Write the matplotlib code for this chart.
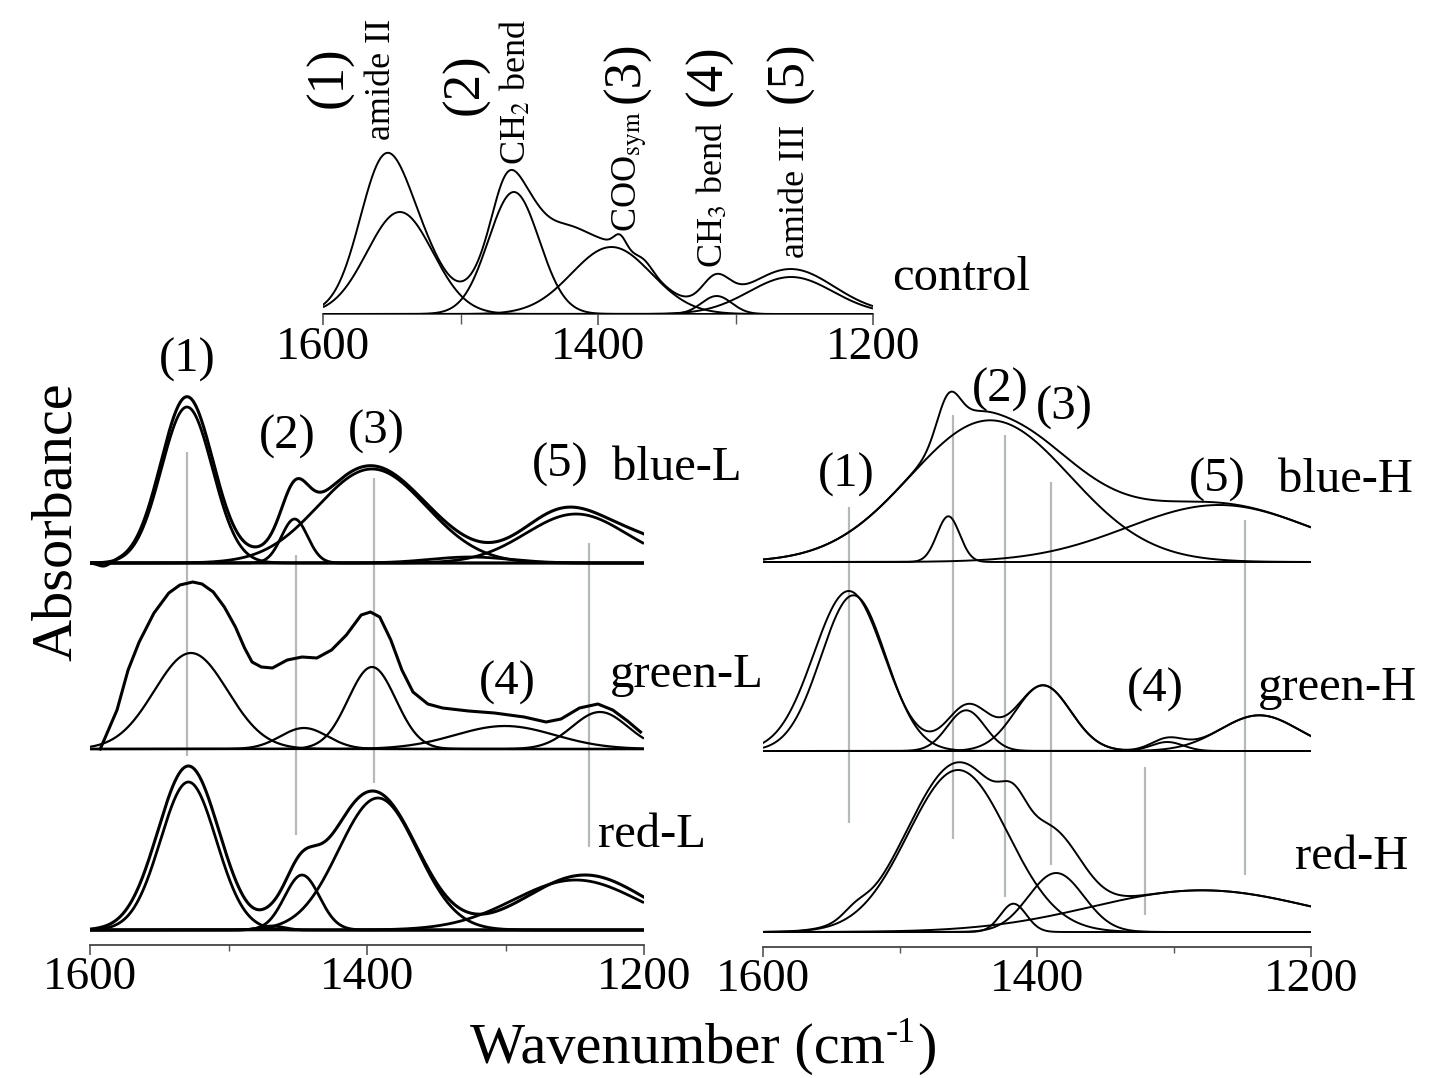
import numpy as np
import matplotlib
matplotlib.use("Agg")
import matplotlib.pyplot as plt
from matplotlib.ticker import MultipleLocator

plt.rcParams['font.family'] = ['Liberation Serif', 'DejaVu Serif']
plt.rcParams['mathtext.fontset'] = 'stix'

# ---------------- DATA (wavenumber cm-1, absorbance a.u.) ----------------
# control spectrum: fitted bands (1)-(5)
control_comp_center = [1544.1, 1461.2, 1390.2, 1313.7, 1259.6]
control_comp_height = [1.02, 1.22, 0.67, 0.18, 0.37]
control_comp_width = [24.0, 18.5, 29.0, 11.0, 30.5]
control_env_center = [1544.1, 1461.2, 1390.2, 1313.7, 1259.6, 1558.5, 1467.6, 1424.0, 1384.0, 1366.0, 1315.0, 1262.0]
control_env_height = [1.02, 1.22, 0.67, 0.18, 0.37, 0.70, 0.20, 0.40, 0.12, 0.06, 0.09, 0.08]
control_env_width = [24.0, 18.5, 29.0, 11.0, 30.5, 16.0, 8.7, 16.0, 4.4, 5.8, 8.7, 40.0]

# blue-L
blueL_comp_center = [1530.0, 1452.3, 1396.4, 1325.6, 1249.1]
blueL_comp_height = [1.56, 0.44, 0.94, 0.06, 0.49]
blueL_comp_width = [18.4, 9.4, 39.0, 28.9, 36.1]
blueL_env_center = [1530.0, 1452.3, 1397.8, 1340.0, 1260.6, 1210.1, 1589.9]
blueL_env_height = [1.66, 0.46, 0.97, 0.04, 0.45, 0.25, -0.04]
blueL_env_width = [18.8, 9.7, 39.0, 25.0, 28.9, 36.1, 4.3]

# green-L
greenL_comp_center = [1527.1, 1445.5, 1396.4, 1300.4, 1231.8]
greenL_comp_height = [0.96, 0.21, 0.82, 0.23, 0.37]
greenL_comp_width = [26.5, 17.0, 17.2, 36.1, 20.0]
greenL_meas_wn = [1592.6, 1580.5, 1572.5, 1564.5, 1553.8, 1543.1, 1535.1, 1525.8, 1519.1,
                  1511.0, 1503.0, 1495.0, 1488.4, 1483.0, 1476.3, 1468.3, 1457.6, 1446.9,
                  1436.2, 1425.6, 1414.9, 1404.2, 1397.5, 1390.8, 1382.8, 1374.8, 1366.8,
                  1356.1, 1345.4, 1326.7, 1308.0, 1286.6, 1270.7, 1259.9, 1246.6, 1233.3,
                  1222.6, 1211.9, 1202.5]
greenL_meas_abs = [0.00, 0.39, 0.79, 1.07, 1.36, 1.56, 1.64, 1.67, 1.65,
                   1.57, 1.42, 1.22, 1.01, 0.87, 0.82, 0.81, 0.89, 0.92,
                   0.91, 0.99, 1.14, 1.34, 1.37, 1.32, 1.09, 0.79, 0.57,
                   0.45, 0.41, 0.38, 0.36, 0.32, 0.27, 0.30, 0.41, 0.45,
                   0.39, 0.28, 0.17]

# red-L
redL_comp_center = [1528.95, 1446.9, 1392.1, 1249.3, 1468.6]
redL_comp_height = [1.48, 0.55, 1.32, 0.50, 0.04]
redL_comp_width = [20.2, 12.6, 28.4, 44.8, 8.7]
redL_env_center = [1528.95, 1448.4, 1392.1, 1419.5, 1242.6, 1471.5]
redL_env_height = [1.64, 0.50, 1.315, 0.20, 0.55, 0.06]
redL_env_width = [22.0, 12.3, 28.9, 18.1, 41.9, 8.7]

# blue-H
blueH_comp_center = [1434.2, 1464.7, 1267.1]
blueH_comp_height = [1.417, 0.457, 0.57]
blueH_comp_width = [58.4, 8.3, 67.2]
blueH_env_center = [1434.2, 1464.7, 1267.1, 1447.3]
blueH_env_height = [1.42, 0.40, 0.57, 0.08]
blueH_env_width = [58.4, 8.3, 67.2, 14.6]

# green-H
greenH_comp_center = [1534.0, 1451.7, 1395.6, 1304.9, 1237.7]
greenH_comp_height = [1.557, 0.407, 0.657, 0.09, 0.357]
greenH_comp_width = [23.7, 13.7, 20.2, 11.7, 28.5]
greenH_env_center = [1537.4, 1450.3, 1395.6, 1304.9, 1237.7]
greenH_env_height = [1.60, 0.45, 0.657, 0.113, 0.357]
greenH_env_width = [25.6, 15.3, 20.2, 11.7, 28.5]

# red-H
redH_comp_center = [1457.6, 1417.2, 1386.0, 1279.6]
redH_comp_height = [1.62, 0.283, 0.59, 0.417]
redH_comp_width = [36.5, 9.5, 20.2, 80.4]
redH_env_center = [1457.6, 1532.8, 1417.2, 1386.0, 1279.6]
redH_env_height = [1.66, 0.08, 0.283, 0.59, 0.417]
redH_env_width = [37.3, 8.8, 9.5, 20.2, 80.4]

# grey guide lines (band positions) : wavenumber, upper and lower level on panel scale
left_guide_wn = [1530.0, 1451.3, 1395.0, 1239.7]
left_guide_top = [4.93, 3.90, 4.67, 4.02]
left_guide_bot = [1.89, 1.10, 1.62, 0.98]
right_guide_wn = [1537.4, 1461.4, 1423.6, 1389.5, 1321.0, 1248.3]
right_guide_top = [4.40, 5.32, 5.12, 4.65, 1.80, 4.27]
right_guide_bot = [1.24, 1.08, 0.50, 0.82, 0.32, 0.72]

tick_values = [1600, 1400, 1200]
tick_labels = ["1600", "1400", "1200"]

# ---------------- LAYOUT ----------------
W, H = 1433, 1078
fig = plt.figure(figsize=(W / 100, H / 100), dpi=100)


def ax_at(x0, x1, ybot, ytop):
    return fig.add_axes([x0 / W, 1 - ybot / H, (x1 - x0) / W, (ybot - ytop) / H])


def style(ax, ymax, major_len, minor_len):
    ax.set_xlim(1600, 1200)
    ax.set_ylim(0, ymax)
    ax.patch.set_alpha(0)
    for s in ['left', 'right', 'top']:
        ax.spines[s].set_visible(False)
    ax.spines['bottom'].set_color('#444444')
    ax.spines['bottom'].set_linewidth(1.3)
    ax.set_yticks([])
    ax.set_xticks(tick_values)
    ax.set_xticklabels(tick_labels)
    ax.xaxis.set_minor_locator(MultipleLocator(100))
    ax.tick_params(axis='x', which='major', direction='out', length=major_len, width=1.2,
                   color='#555555', labelsize=34, pad=1)
    ax.tick_params(axis='x', which='minor', direction='out', length=minor_len, width=1.0,
                   color='#555555')


ax_top = ax_at(323, 873, 314, 0)
style(ax_top, 3.14, 8, 7)
ax_left = ax_at(90, 644, 945, 330)
style(ax_left, 6.15, 7, 4)
ax_right = ax_at(763, 1311, 947, 330)
style(ax_right, 6.17, 7, 4)

wn = np.linspace(1600, 1200, 1601)


def bands(c, h, w):
    c = np.asarray(c)[:, None]
    h = np.asarray(h)[:, None]
    w = np.asarray(w)[:, None]
    return h * np.exp(-(wn[None, :] - c) ** 2 / (2 * w ** 2))


def draw(ax, off, cc, ch, cw, ec=None, eh=None, ew=None, lw=1.3, elw=None,
         meas=None):
    elw = elw or lw
    for comp in bands(cc, ch, cw):
        ax.plot(wn, off + comp, color='black', lw=lw, solid_capstyle='butt', zorder=3)
    if ec is not None:
        ax.plot(wn, off + bands(ec, eh, ew).sum(axis=0), color='black', lw=elw, zorder=3)
    if meas is not None:
        ax.plot(meas[0], off + np.asarray(meas[1]), color='black', lw=elw, zorder=3)


draw(ax_top, 0.0, control_comp_center, control_comp_height, control_comp_width,
     control_env_center, control_env_height, control_env_width, lw=1.4)

draw(ax_left, 3.82, blueL_comp_center, blueL_comp_height, blueL_comp_width,
     blueL_env_center, blueL_env_height, blueL_env_width, lw=2.0, elw=2.2)
draw(ax_left, 1.96, greenL_comp_center, greenL_comp_height, greenL_comp_width,
     lw=1.6, elw=2.2, meas=(greenL_meas_wn, greenL_meas_abs))
draw(ax_left, 0.15, redL_comp_center, redL_comp_height, redL_comp_width,
     redL_env_center, redL_env_height, redL_env_width, lw=2.0, elw=2.2)

draw(ax_right, 3.85, blueH_comp_center, blueH_comp_height, blueH_comp_width,
     blueH_env_center, blueH_env_height, blueH_env_width, lw=1.4)
draw(ax_right, 1.96, greenH_comp_center, greenH_comp_height, greenH_comp_width,
     greenH_env_center, greenH_env_height, greenH_env_width, lw=1.4)
draw(ax_right, 0.15, redH_comp_center, redH_comp_height, redH_comp_width,
     redH_env_center, redH_env_height, redH_env_width, lw=1.4)

ax_left.vlines(left_guide_wn, left_guide_bot, left_guide_top, color='#b4b9bd', lw=1.6, zorder=1)
ax_right.vlines(right_guide_wn, right_guide_bot, right_guide_top, color='#b4b9bd', lw=1.6, zorder=1)


# ---------------- TEXT ----------------
def t(x, y, s, size=35, ha='center', va='center', rot=0):
    return fig.text(x / W, 1 - y / H, s, fontsize=size, ha=ha, va=va, rotation=rot)


# top panel annotations (rotated)
t(330, 77, "(1)", 38, rot=90)
t(381, 140, "amide II", 26, va='bottom', rot=90)
t(466, 84, "(2)", 38, rot=90)
t(516, 165, r"CH$_2$ bend", 26, va='bottom', rot=90)
t(630, 232, r"COO$_{\mathrm{sym}}$", 26, va='bottom', rot=90)
t(627, 72, "(3)", 38, rot=90)
t(713, 268, r"CH$_3$ bend", 26, va='bottom', rot=90)
t(709, 75, "(4)", 38, rot=90)
t(795, 258, "amide III", 26, va='bottom', rot=90)
t(790, 72, "(5)", 38, rot=90)
t(892, 278, "control", 35, ha='left')

# left panel
t(187, 360, "(1)")
t(287, 437, "(2)")
t(376, 432, "(3)")
t(560, 465, "(5)")
t(612, 468, "blue-L", ha='left')
t(507, 683, "(4)")
t(610, 675, "green-L", ha='left')
t(598, 835, "red-L", ha='left')

# right panel
t(846, 475, "(1)")
t(1000, 390, "(2)")
t(1064, 408, "(3)")
t(1217, 480, "(5)")
t(1278, 480, "blue-H", ha='left')
t(1155, 690, "(4)")
t(1258, 688, "green-H", ha='left')
t(1295, 857, "red-H", ha='left')

# axis titles
t(57, 522, "Absorbance", 42, rot=90)
xl = t(470, 1049, "Wavenumber (cm", 42, ha='left')
fig.canvas.draw()
renderer = fig.canvas.get_renderer()
bb = xl.get_window_extent(renderer)
sup = fig.text((bb.x1 + 1) / W, (bb.y0 + bb.height * 0.80) / H, "-1", fontsize=26,
               ha='left', va='center')
bb2 = sup.get_window_extent(renderer)
fig.text((bb2.x1 + 1) / W, 1 - 1049 / H, ")", fontsize=42, ha='left', va='center')

fig.savefig("out.png", dpi=100)
